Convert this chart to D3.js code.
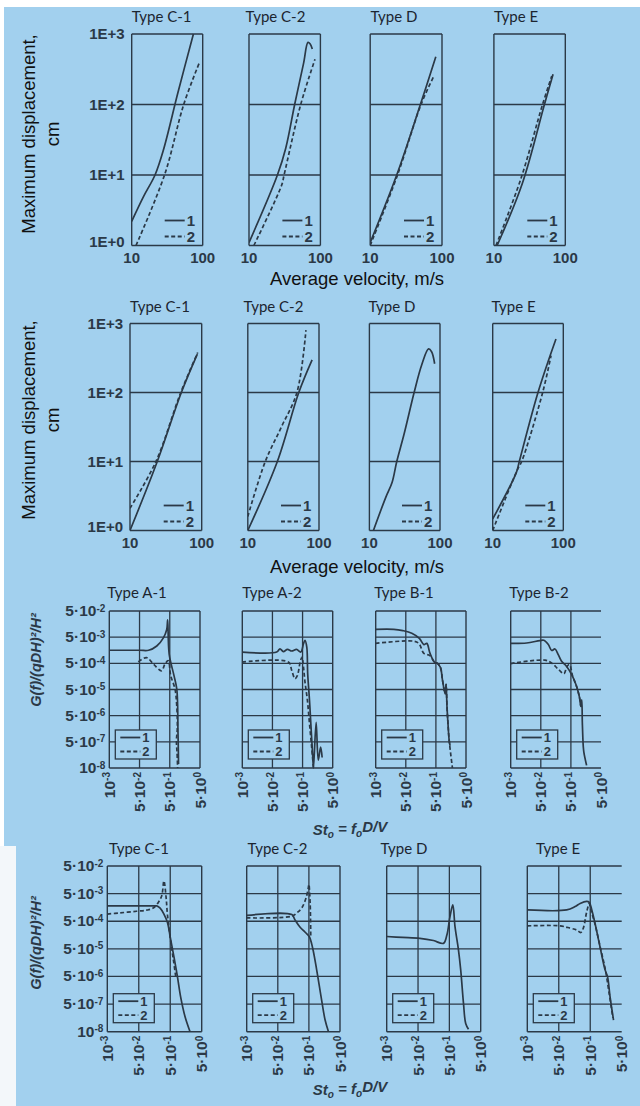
<!DOCTYPE html>
<html><head><meta charset="utf-8">
<script src="https://cdn.jsdelivr.net/npm/d3@7"></script>
<style>html,body{margin:0;padding:0;background:#fff;} svg{display:block}</style>
</head><body><svg id="c" width="640" height="1106"></svg>
<script>
// ---------------- DATA ----------------
const typesCDE = ["Type C-1", "Type C-2", "Type D", "Type E"];
const typesAB = ["Type A-1", "Type A-2", "Type B-1", "Type B-2"];
const legendLabels = ["1", "2"];

const velTicks = [10, 100];
const velTickLabels = ["10", "100"];
const dispTicks = [1, 10, 100, 1000];
const dispTickLabels = ["1E+0", "1E+1", "1E+2", "1E+3"];

const stTicks = [1e-3, 5e-2, 5e-1, 5];
const stTickLabels = ["10^-3", "5·10^-2", "5·10^-1", "5·10^0"];
const gTicks = [1e-8, 5e-7, 5e-6, 5e-5, 5e-4, 5e-3, 5e-2];
const gTickLabels = ["10^-8", "5·10^-7", "5·10^-6", "5·10^-5", "5·10^-4", "5·10^-3", "5·10^-2"];

// Row 1: maximum displacement (cm) vs average velocity (m/s)
const r1C1_v1 = [10, 14.6, 21.3, 27.9, 45, 74];
const r1C1_d1 = [2.2, 4.9, 10, 22.4, 150, 1000];
const r1C1_v2 = [11.5, 29, 54, 89];
const r1C1_d2 = [1, 10, 100, 384];
const r1C2_v1 = [10, 25, 32.7, 43.6, 58, 67, 72, 77];
const r1C2_d1 = [1.1, 10, 24, 100, 380, 760, 720, 611];
const r1C2_v2 = [11.7, 28.7, 31, 53, 84];
const r1C2_d2 = [1, 7.2, 10, 100, 439];
const r1D_v1 = [10, 23.4, 50, 82];
const r1D_d1 = [1.1, 10, 100, 475];
const r1D_v2 = [10, 24, 51, 76];
const r1D_d2 = [1, 10, 100, 246];
const r1E_v1 = [11.1, 25, 51, 67.4];
const r1E_d1 = [1, 7.6, 100, 268];
const r1E_v2 = [10.7, 24, 48, 64.7];
const r1E_d2 = [1, 9, 100, 254];

// Row 2
const r2C1_v1 = [10, 24, 52, 87];
const r2C1_d1 = [1, 10, 100, 360];
const r2C1_v2 = [10, 23, 51, 88];
const r2C1_d2 = [2.1, 10, 100, 380];
const r2C2_v1 = [10, 26, 52, 80];
const r2C2_d1 = [1, 10, 100, 297];
const r2C2_v2 = [10, 17.6, 29.8, 49, 65.6];
const r2C2_d2 = [1.6, 10, 32, 100, 802];
const r2D_v1 = [11.4, 17, 21, 24.4, 31, 43, 55, 68.8, 76, 84];
const r2D_d1 = [1, 3, 5, 10, 25, 100, 250, 428, 390, 261];
const r2E_v1 = [10, 21.6, 23.8, 43.8, 78.7];
const r2E_d1 = [1.47, 6.9, 10, 100, 596];
const r2E_v2 = [10, 22.5, 25.7, 51, 67];
const r2E_d2 = [1, 7.7, 10, 100, 343];

// Row 3: spectra G(f)/(qDH)^2/H^2 vs St_o
const r3A1_s1 = [1e-3, 0.05, 0.1, 0.186, 0.308, 0.397, 0.426, 0.478, 0.69, 0.849, 0.91, 0.93, 0.953, 0.975];
const r3A1_g1 = [1.58e-3, 1.58e-3, 1.58e-3, 2.3e-3, 4.7e-3, 9.8e-3, 2.3e-2, 1.12e-3, 1.7e-4, 5.4e-5, 1.26e-5, 1.7e-6, 3.4e-7, 1.8e-8];
const r3A1_s2 = [0.0428, 0.085, 0.144, 0.269, 0.346, 0.446, 0.536, 0.74, 0.849, 0.889, 0.83, 0.87, 0.91];
const r3A1_g2 = [5.7e-4, 8.3e-4, 4.7e-4, 2.6e-4, 4.7e-4, 6.3e-4, 1.7e-4, 5.4e-5, 1.26e-5, 1.7e-6, 5.4e-7, 1.05e-7, 1e-8];
const r3A2_s1 = [1e-3, 0.069, 0.089, 0.115, 0.158, 0.218, 0.315, 0.436, 0.536, 0.601, 0.69, 0.74, 0.849, 0.953, 1.09, 1.15, 1.41, 1.66, 1.99, 2.23];
const r3A2_g1 = [1.35e-3, 1.35e-3, 1.8e-3, 1.41e-3, 1.7e-3, 1.48e-3, 1.7e-3, 1.35e-3, 2.8e-3, 3.8e-3, 2.1e-3, 2.0e-4, 1.95e-5, 1.86e-6, 5.2e-8, 1e-8, 2.8e-6, 3.2e-8, 2.3e-7, 4.8e-8];
const r3A2_s2 = [1e-3, 0.169, 0.218, 0.281, 0.338, 0.416, 0.478, 0.536, 0.601, 0.723, 0.849, 1.0, 1.15];
const r3A2_g2 = [5.6e-4, 5.6e-4, 2.7e-4, 1.29e-4, 1.73e-4, 5.6e-4, 8.7e-4, 3.6e-4, 9.8e-5, 1.95e-5, 2.45e-6, 2.3e-7, 1e-8];
const r3B1_s1 = [1e-3, 0.0105, 0.0338, 0.079, 0.141, 0.199, 0.25, 0.315, 0.446, 0.561, 0.706, 0.83, 0.953, 1.02, 1.09, 1.17, 1.26, 1.38, 1.48];
const r3B1_g1 = [1e-2, 1e-2, 8.9e-3, 7.1e-3, 4.5e-3, 2.6e-3, 2.9e-3, 1.26e-3, 5.6e-4, 5e-4, 3.5e-4, 1.12e-4, 4.5e-5, 3.5e-5, 7.9e-5, 1.07e-5, 2.5e-6, 5.7e-7, 2.8e-7];
const r3B1_s2 = [1e-3, 0.095, 0.138, 0.199, 0.315, 0.446, 0.561, 0.706, 0.83, 0.953, 1.02, 1.09, 1.17, 1.26, 1.38, 1.77];
const r3B1_g2 = [2.9e-3, 3.5e-3, 2.8e-3, 1.2e-3, 1.0e-3, 5.6e-4, 5e-4, 3.5e-4, 1.12e-4, 4.5e-5, 3.5e-5, 7.9e-5, 1.07e-5, 2.5e-6, 5.7e-7, 1e-8];
const r3B2_s1 = [1e-3, 7.9e-3, 0.0445, 0.063, 0.089, 0.115, 0.148, 0.19, 0.245, 0.362, 0.536, 0.74, 0.953, 1.07, 1.15, 1.2, 1.29, 1.35, 1.66];
const r3B2_g1 = [2.9e-3, 3.0e-3, 3.7e-3, 3.8e-3, 2.6e-3, 1.55e-3, 1.77e-3, 1.07e-3, 6e-4, 3.8e-4, 1.8e-4, 7.6e-5, 2.7e-5, 1.12e-5, 2.0e-5, 2.6e-6, 2.4e-7, 1.05e-7, 1.48e-8];
const r3B2_s2 = [1e-3, 0.069, 0.115, 0.19, 0.294, 0.362, 0.446, 0.574, 0.74, 0.953, 1.07];
const r3B2_g2 = [4.9e-4, 6.6e-4, 5.1e-4, 3.0e-4, 2.0e-4, 3.6e-4, 4.5e-4, 1.58e-4, 7.6e-5, 2.7e-5, 1.12e-5];

// Row 4
const r4C1_s1 = [1e-3, 0.144, 0.186, 0.239, 0.315, 0.406, 0.512, 0.659, 0.849, 1.07, 1.48, 2.13];
const r4C1_g1 = [1.8e-3, 1.8e-3, 1.8e-3, 1.5e-3, 9.1e-4, 4.6e-4, 1.15e-4, 2.5e-5, 4.8e-6, 9.1e-7, 8.3e-8, 1e-8];
const r4C1_s2 = [1e-3, 4.8e-3, 0.038, 0.089, 0.144, 0.209, 0.269, 0.315, 0.37, 0.406, 0.5, 0.63, 0.757];
const r4C1_g2 = [9.1e-4, 1.0e-3, 1.15e-3, 1.26e-3, 1.5e-3, 2.4e-3, 4.2e-3, 1.44e-2, 3.6e-3, 9.1e-4, 1.26e-4, 2.0e-5, 4.5e-6];
const r4C2_s1 = [1e-3, 0.141, 0.177, 0.257, 0.379, 0.512, 0.659, 0.889, 1.23, 1.66, 2.13];
const r4C2_g1 = [8.1e-4, 8.7e-4, 5.7e-4, 3.1e-4, 2.0e-4, 1.4e-4, 5.4e-5, 8.7e-6, 9.3e-7, 5.2e-8, 1e-8];
const r4C2_s2 = [1e-3, 0.141, 0.204, 0.294, 0.406, 0.478, 0.5, 0.548, 0.574];
const r4C2_g2 = [6.6e-4, 7.6e-4, 1.0e-3, 1.5e-3, 3.5e-3, 8.1e-3, 1.07e-2, 2.3e-3, 1.4e-4];
const r4D_s1 = [1e-3, 7.1e-3, 0.0574, 0.155, 0.323, 0.416, 0.524, 0.644, 0.757, 0.975, 1.15, 1.41, 1.66, 2.04];
const r4D_g1 = [1.4e-4, 1.3e-4, 1.2e-4, 1.0e-4, 7.9e-5, 1.58e-4, 7.4e-4, 1.95e-3, 3.2e-4, 4.6e-5, 8.7e-6, 5.4e-7, 3.2e-8, 1.42e-8];
const r4E_s1 = [1e-3, 0.089, 0.166, 0.239, 0.388, 0.467, 0.561, 0.706, 1.02, 1.48, 1.77, 2.13, 2.75];
const r4E_g1 = [1.28e-3, 1.28e-3, 1.7e-3, 2.2e-3, 2.6e-3, 2.4e-3, 1.28e-3, 4.3e-4, 6e-5, 8.7e-6, 5e-6, 9.3e-7, 5.2e-8];
const r4E_s2 = [1e-3, 0.0548, 0.115, 0.186, 0.25, 0.301, 0.388, 0.467, 0.512, 0.706, 1.07, 1.48, 1.99, 2.62];
const r4E_g2 = [3.4e-4, 3.4e-4, 2.8e-4, 2.4e-4, 1.95e-4, 2.8e-4, 1.12e-3, 2.2e-3, 1.41e-3, 4.0e-4, 5e-5, 1.0e-5, 1.26e-6, 7.1e-8];

// ---------------- LAYOUT ----------------
const BG = "#a2d0ee", INK = "#2b3947", TXT = "#1c2530";
const zip = (a, b) => a.map((v, i) => [v, b[i]]);

const rows = [
  {kind: "vel", top: 34, bottom: 245.5, titleY: 17, titles: typesCDE,
   xs: [[131.7, 202.7], [249, 320.4], [370.2, 442], [493.9, 565.3]], titleX: [161.7, 275.5, 394, 516],
   xTitleY: 279, yTitleY: 134,
   series: [[zip(r1C1_v1, r1C1_d1), zip(r1C1_v2, r1C1_d2)], [zip(r1C2_v1, r1C2_d1), zip(r1C2_v2, r1C2_d2)],
            [zip(r1D_v1, r1D_d1), zip(r1D_v2, r1D_d2)], [zip(r1E_v1, r1E_d1), zip(r1E_v2, r1E_d2)]]},
  {kind: "vel", top: 323.5, bottom: 530.5, titleY: 307, titles: typesCDE,
   xs: [[130, 201.7], [247.8, 319], [369.4, 440], [492.7, 563.3]], titleX: [160, 273.5, 392, 513.5],
   xTitleY: 567, yTitleY: 420,
   series: [[zip(r2C1_v1, r2C1_d1), zip(r2C1_v2, r2C1_d2)], [zip(r2C2_v1, r2C2_d1), zip(r2C2_v2, r2C2_d2)],
            [zip(r2D_v1, r2D_d1), null], [zip(r2E_v1, r2E_d1), zip(r2E_v2, r2E_d2)]]},
  {kind: "st", top: 611, bottom: 768, titleY: 593, titles: typesAB,
   xs: [[109.3, 200], [242.3, 332.7], [375.7, 466], [510.7, 601]], titleX: [137, 272, 404, 539],
   xTitleY: 830, yTitleY: 660,
   series: [[zip(r3A1_s1, r3A1_g1), zip(r3A1_s2, r3A1_g2)], [zip(r3A2_s1, r3A2_g1), zip(r3A2_s2, r3A2_g2)],
            [zip(r3B1_s1, r3B1_g1), zip(r3B1_s2, r3B1_g2)], [zip(r3B2_s1, r3B2_g1), zip(r3B2_s2, r3B2_g2)]]},
  {kind: "st", top: 866, bottom: 1031.7, titleY: 849, titles: typesCDE,
   xs: [[107.3, 201.7], [246.7, 340], [386.7, 480.7], [527.3, 621.7]], titleX: [139, 277.5, 404, 558],
   xTitleY: 1090, yTitleY: 943,
   series: [[zip(r4C1_s1, r4C1_g1), zip(r4C1_s2, r4C1_g2)], [zip(r4C2_s1, r4C2_g1), zip(r4C2_s2, r4C2_g2)],
            [zip(r4D_s1, r4D_g1), null], [zip(r4E_s1, r4E_g1), zip(r4E_s2, r4E_g2)]]}
];

const svg = d3.select("#c");
svg.append("rect").attr("x", 4).attr("y", 7).attr("width", 636).attr("height", 1099).attr("fill", BG);
svg.append("rect").attr("x", 0).attr("y", 846).attr("width", 16).attr("height", 260).attr("fill", "#f3f7fa");
const defs = svg.append("defs");

function powLabel(sel, str, supSize) {
  const parts = str.split("^");
  sel.append("tspan").text(parts[0]);
  if (parts[1] !== undefined) {
    sel.append("tspan").attr("font-size", supSize).attr("dy", "-0.45em").text(parts[1]);
  }
}

let clipId = 0;
rows.forEach((row, ri) => {
  row.xs.forEach((xr, pi) => {
    const [x0, x1] = xr;
    const top = row.top, bottom = row.bottom;
    const g = svg.append("g");
    let x, y;
    if (row.kind === "vel") {
      x = d3.scaleLog().domain([velTicks[0], velTicks[1]]).range([x0, x1]);
      y = d3.scaleLog().domain([dispTicks[0], dispTicks[3]]).range([bottom, top]);
    } else {
      const w = x1 - x0, h = bottom - top;
      x = d3.scaleLog().domain(stTicks).range(stTicks.map((d, i) => x0 + w * i / (stTicks.length - 1)));
      y = d3.scaleLog().domain(gTicks).range(gTicks.map((d, i) => bottom - h * i / (gTicks.length - 1)));
    }
    // grid
    const inner = row.kind === "vel" ? dispTicks.slice(1, -1) : gTicks.slice(1, -1);
    g.selectAll(".hg").data(inner).join("line")
      .attr("x1", x0).attr("x2", x1).attr("y1", d => y(d)).attr("y2", d => y(d))
      .attr("stroke", INK).attr("stroke-width", 1.3);
    if (row.kind === "st") {
      g.selectAll(".vg").data(stTicks.slice(1, -1)).join("line")
        .attr("x1", d => x(d)).attr("x2", d => x(d)).attr("y1", top).attr("y2", bottom)
        .attr("stroke", INK).attr("stroke-width", 1.3);
    }
    // frame
    const lastSt = row.kind === "st" && pi === 3;
    const frame = [[x0, top, x1, top], [x0, bottom, x1, bottom], [x0, top, x0, bottom]];
    if (!lastSt) frame.push([x1, top, x1, bottom]);
    g.selectAll(".fr").data(frame).join("line")
      .attr("x1", d => d[0]).attr("y1", d => d[1]).attr("x2", d => d[2]).attr("y2", d => d[3])
      .attr("stroke", INK).attr("stroke-width", 1.4);

    // title
    svg.append("text").attr("x", row.titleX[pi]).attr("y", row.titleY).attr("dy", "0.35em")
      .attr("text-anchor", "middle").attr("font-family", "Lato, 'Open Sans', sans-serif")
      .attr("font-size", 15).attr("fill", TXT).text(row.titles[pi]);

    // clip
    const cid = "cp" + (clipId++);
    defs.append("clipPath").attr("id", cid).append("rect")
      .attr("x", x0).attr("y", top - 1).attr("width", x1 - x0 + 2).attr("height", bottom - top + 2);

    // legend
    if (row.kind === "vel") {
      const ly = [bottom - 25, bottom - 9];
      ly.forEach((yy, i) => {
        g.append("line").attr("x1", x1 - 38).attr("x2", x1 - 18).attr("y1", yy).attr("y2", yy)
          .attr("stroke", INK).attr("stroke-width", 1.8).attr("stroke-dasharray", i ? "4,2.5" : null);
        g.append("text").attr("x", x1 - 16).attr("y", yy).attr("dy", "0.36em")
          .attr("font-family", "'Liberation Sans', Arial, sans-serif").attr("font-weight", "bold")
          .attr("font-size", 15).attr("fill", INK).text(legendLabels[i]);
      });
    } else {
      const by = bottom - 38;
      g.append("rect").attr("x", x0 + 6).attr("y", by).attr("width", 41).attr("height", 29)
        .attr("fill", BG).attr("stroke", INK).attr("stroke-width", 1.3);
      [by + 7.5, by + 21.5].forEach((yy, i) => {
        g.append("line").attr("x1", x0 + 11).attr("x2", x0 + 31).attr("y1", yy).attr("y2", yy)
          .attr("stroke", INK).attr("stroke-width", 1.8).attr("stroke-dasharray", i ? "4,2.5" : null);
        g.append("text").attr("x", x0 + 33).attr("y", yy).attr("dy", "0.36em")
          .attr("font-family", "'Liberation Sans', Arial, sans-serif").attr("font-weight", "bold")
          .attr("font-size", 13).attr("fill", INK).text(legendLabels[i]);
      });
    }

    // curves
    const line = d3.line().x(d => x(d[0])).y(d => y(d[1])).curve(d3.curveCatmullRom.alpha(0.5));
    row.series[pi].forEach((s, si) => {
      if (!s) return;
      g.append("path").attr("d", line(s)).attr("clip-path", `url(#${cid})`)
        .attr("fill", "none").attr("stroke", INK).attr("stroke-width", 1.7)
        .attr("stroke-dasharray", si ? "4,2.5" : null);
    });

    // tick labels
    if (row.kind === "vel") {
      velTicks.forEach((t, i) => {
        svg.append("text").attr("x", x(t)).attr("y", bottom + 12).attr("dy", "0.35em")
          .attr("text-anchor", "middle").attr("font-family", "'Liberation Sans', Arial, sans-serif")
          .attr("font-weight", "bold").attr("font-size", 15).attr("fill", INK).text(velTickLabels[i]);
      });
      if (pi === 0) {
        dispTicks.forEach((t, i) => {
          svg.append("text").attr("x", x0 - 7).attr("y", y(t) - (i === 0 ? 4 : 0)).attr("dy", "0.35em")
            .attr("text-anchor", "end").attr("font-family", "'Liberation Sans', Arial, sans-serif")
            .attr("font-weight", "bold").attr("font-size", 15).attr("fill", INK).text(dispTickLabels[i]);
        });
      }
    } else {
      stTicks.forEach((t, i) => {
        const tx = svg.append("text").attr("transform", `translate(${x(t)},${bottom + 4}) rotate(-90)`)
          .attr("dy", "0.36em").attr("text-anchor", "end")
          .attr("font-family", "'Liberation Sans', Arial, sans-serif").attr("font-weight", "bold")
          .attr("font-size", 15.5).attr("fill", INK);
        powLabel(tx, stTickLabels[i], 10);
      });
      if (pi === 0) {
        gTicks.forEach((t, i) => {
          const tx = svg.append("text").attr("x", x0 - 4).attr("y", y(t) + 5)
            .attr("text-anchor", "end").attr("font-family", "'Liberation Sans', Arial, sans-serif")
            .attr("font-weight", "bold").attr("font-size", 15.5).attr("fill", INK);
          powLabel(tx, gTickLabels[i], 10);
        });
      }
    }
  });

  // axis titles
  if (row.kind === "vel") {
    svg.append("text").attr("x", 357).attr("y", row.xTitleY).attr("dy", "0.35em").attr("text-anchor", "middle")
      .attr("font-family", "'Liberation Sans', Arial, sans-serif").attr("font-size", 18.5).attr("fill", "#111")
      .text("Average velocity, m/s");
    svg.append("text").attr("transform", `translate(28.6,${row.yTitleY}) rotate(-90)`).attr("dy", "0.35em")
      .attr("text-anchor", "middle").attr("font-family", "'Liberation Sans', Arial, sans-serif")
      .attr("font-size", 18.5).attr("fill", "#111").text("Maximum displacement,");
    svg.append("text").attr("transform", `translate(53,${row.yTitleY}) rotate(-90)`).attr("dy", "0.35em")
      .attr("text-anchor", "middle").attr("font-family", "'Liberation Sans', Arial, sans-serif")
      .attr("font-size", 18.5).attr("fill", "#111").text("cm");
  } else {
    const xt = svg.append("text").attr("x", 350).attr("y", row.xTitleY).attr("dy", "0.35em").attr("text-anchor", "middle")
      .attr("font-family", "'Liberation Sans', Arial, sans-serif").attr("font-size", 15)
      .attr("font-style", "italic").attr("font-weight", "bold").attr("fill", INK);
    xt.append("tspan").text("St");
    xt.append("tspan").attr("font-size", 10).attr("dy", "0.3em").text("o");
    xt.append("tspan").attr("dy", "-0.3em").text(" = f");
    xt.append("tspan").attr("font-size", 10).attr("dy", "0.3em").text("o");
    xt.append("tspan").attr("dy", "-0.3em").text("D/V");
    svg.append("text").attr("transform", `translate(36,${row.yTitleY}) rotate(-90)`).attr("dy", "0.35em")
      .attr("text-anchor", "middle").attr("font-family", "'Liberation Sans', Arial, sans-serif")
      .attr("font-size", 14.5).attr("font-style", "italic").attr("font-weight", "bold").attr("fill", INK)
      .text("G(f)/(qDH)²/H²");
  }
});
</script></body></html>
